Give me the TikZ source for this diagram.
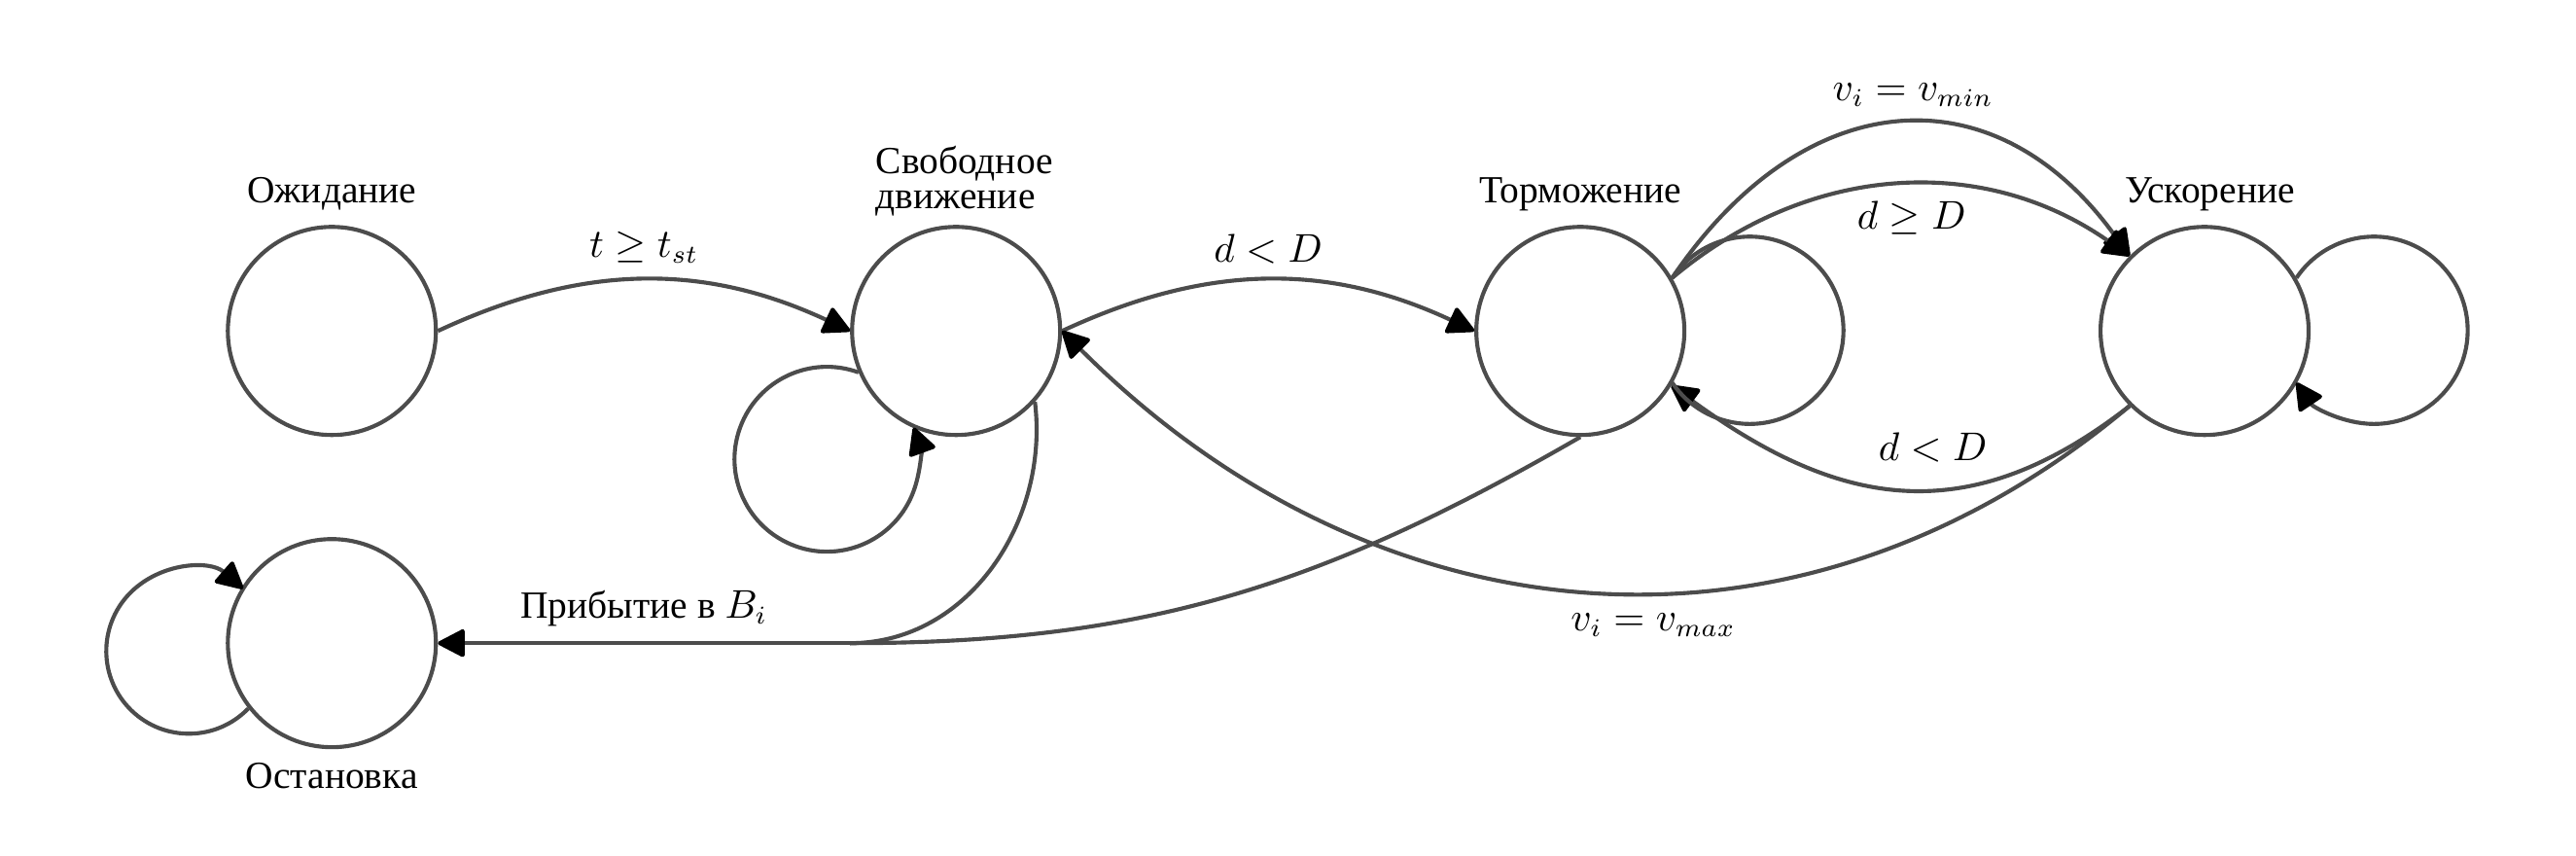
\documentclass[tikz,border=0pt]{standalone}
\usepackage[no-math]{fontspec}
\setmainfont{Liberation Serif}
\usetikzlibrary{arrows.meta}
\tikzset{ name_style/.style = { font = \fontsize{10.5}{12}\selectfont % state name
        , label distance = 0pt
        }
        , lbl_style/.style = { font = \fontsize{10.5}{12}\selectfont % transition label
        }
        }

\begin{document}
\begin{tikzpicture}[>={Triangle[length=8pt,width=8pt,round,color=black]}, line width=1.1pt,
        node_style/.style={circle,draw=black!70,minimum size=2cm,inner sep=0pt},
        edge_node_style/.style={draw=none,fill=none,midway,inner sep=4pt,lbl_style},
        edge_style/.style={draw=black!70, line width=1.1pt,->},
        line_style/.style={draw=black!70, line width=1.1pt}]
        \useasboundingbox (-3.19,-5.04) rectangle (21.57,3.18);

        \node [node_style,label={[name_style]above:Ожидание}] (wait) at (0,0) {};
        \node [node_style,label={[name_style,align=left,label distance=-1.6pt,xshift=0.8mm]above:{Свободное\\[-2.4pt]движение}}] (free) at (6,0) {};
        \node [node_style,label={[name_style]above:Торможение}] (brake) at (12,0) {};
        \node [node_style,label={[name_style,xshift=0.5mm]above:Ускорение}] (accel) at (18,0) {};
        \node [node_style,label={[name_style]below:Остановка}] (stop) at (0,-3) {};
        \coordinate (merge) at (free.west |- stop);

        \draw [edge_style] (wait.east) to[bend left=25] node [edge_node_style,above] {$t \geq t_{st}$} (free.west);
        \draw [edge_style] (free.east) to[bend left=25] node [edge_node_style,above] {$d < D$} (brake.west);
        \draw [edge_style] (brake.30) to[out=56,in=126,looseness=1.3] node [edge_node_style,above,pos=0.53] {$v_i = v_{min}$} (accel.135);
        \draw [edge_style] (brake.30) to[out=40,in=145] node [edge_node_style,below,pos=0.53] {$d \geq D$} (accel.135);
        \draw [edge_style] (accel.-135) to[out=-142,in=-36,looseness=1.15] node [edge_node_style,above=3pt,pos=0.43] {$d < D$} (brake.-31);
        \draw [edge_style] (accel.-135) to[out=-140,in=-45,looseness=1.05] node [edge_node_style,below=1pt,pos=0.44] {$v_i = v_{max}$} (free.east);
        \draw [line_style] (free.-42) to[out=-83,in=0] (merge);
        \draw [line_style] (brake.south) to[out=-150,in=0] (merge);
        \draw [edge_style] (merge) -- node [edge_node_style,above] {Прибытие в $B_i$} (stop.east);

        % self loops
        \draw [edge_style] (free.-157) arc[start angle=70,end angle=380,radius=0.888];
        \draw [edge_style] (stop.-142) arc[start angle=-44,end angle=-311,radius=0.794];
        \draw [line_style] (brake.30) arc[start angle=146,end angle=-146,radius=0.9];
        \draw [edge_style] (accel.30) arc[start angle=146,end angle=-146,radius=0.9];

\end{tikzpicture}
\end{document}
